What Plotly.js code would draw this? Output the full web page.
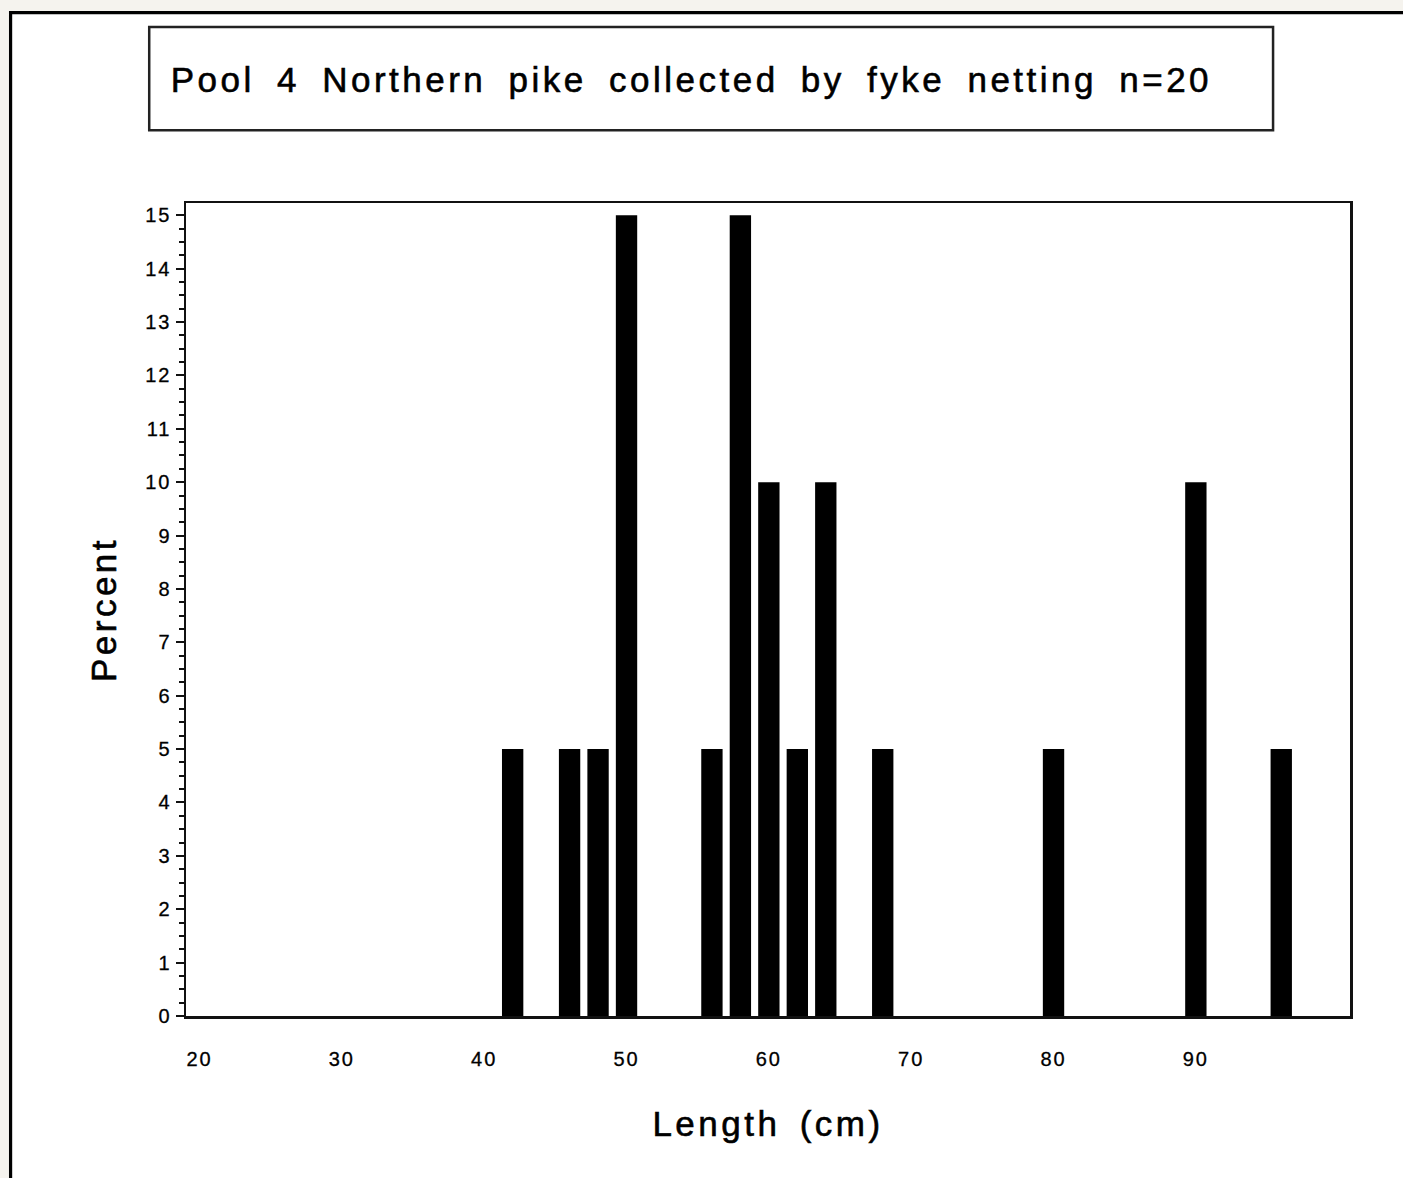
<!DOCTYPE html>
<html>
<head>
<meta charset="utf-8">
<script src="https://cdn.plot.ly/plotly-3.0.1.min.js"></script>
<style>
  html, body { margin: 0; padding: 0; background: #f5f3ee; }
  #chart { width: 1403px; height: 1178px; }
  .gtitle { letter-spacing: 3.5px; word-spacing: 9px; stroke: #000; stroke-width: 0.6px; }
  .xtitle, .ytitle { letter-spacing: 3.5px; word-spacing: 6px; stroke: #000; stroke-width: 0.6px; }
  .xtick text, .ytick text { letter-spacing: 2px; stroke: #000; stroke-width: 0.3px; }
</style>
</head>
<body>
<div id="chart"></div>
<script>
// Data (bin midpoints in cm, percent of fish)
const lengthMidpoints = [42, 46, 48, 50, 56, 58, 60, 62, 64, 68, 80, 90, 96];
const percentValues   = [5, 5, 5, 15, 5, 15, 10, 5, 10, 5, 5, 10, 5];
const xTickValues = [20, 30, 40, 50, 60, 70, 80, 90];
const xTickLabels = ['20', '30', '40', '50', '60', '70', '80', '90'];
const yTickValues = [0, 1, 2, 3, 4, 5, 6, 7, 8, 9, 10, 11, 12, 13, 14, 15];
const yTickLabels = ['0', '1', '2', '3', '4', '5', '6', '7', '8', '9', '10', '11', '12', '13', '14', '15'];
const chartTitle = 'Pool 4 Northern pike collected by fyke netting n=20';
const xTitle = 'Length (cm)';
const yTitle = 'Percent';

const FONT = 'Liberation Sans, Arial, Helvetica, sans-serif';

const trace = {
  type: 'bar',
  x: lengthMidpoints,
  y: percentValues,
  width: 1.5,
  marker: { color: '#000000', line: { width: 0 } },
  hoverinfo: 'x+y'
};

const layout = {
  width: 1403,
  height: 1178,
  margin: { l: 185.5, r: 53, t: 202.5, b: 162, pad: 0 },
  paper_bgcolor: '#f5f3ee',
  plot_bgcolor: '#ffffff',
  showlegend: false,
  font: { family: FONT, color: '#000000' },
  title: {
    text: chartTitle,
    xref: 'container', yref: 'container',
    x: 0.4928, y: 0.932,
    xanchor: 'center', yanchor: 'middle',
    font: { family: FONT, size: 35, color: '#000000' }
  },
  xaxis: {
    range: [19.05, 100.83],
    tickmode: 'array',
    tickvals: xTickValues,
    ticktext: xTickLabels,
    ticks: '',
    ticklabelstandoff: 23,
    tickfont: { family: FONT, size: 20, color: '#000000' },
    showgrid: false,
    zeroline: false,
    showline: true,
    mirror: true,
    linecolor: '#111111',
    linewidth: 2.5,
    automargin: false,
    title: { text: xTitle, standoff: 43, font: { family: FONT, size: 35, color: '#000000' } }
  },
  yaxis: {
    range: [0, 15.23],
    tickmode: 'array',
    tickvals: yTickValues,
    ticktext: yTickLabels,
    ticks: 'outside',
    ticklen: 8,
    tickwidth: 2,
    tickcolor: '#111111',
    ticklabelstandoff: 0,
    minor: { dtick: 0.25, ticks: 'outside', ticklen: 5, tickwidth: 2, tickcolor: '#111111', showgrid: false },
    tickfont: { family: FONT, size: 20, color: '#000000' },
    showgrid: false,
    zeroline: false,
    showline: true,
    mirror: true,
    linecolor: '#111111',
    linewidth: 2.5,
    automargin: false,
    title: { text: yTitle, standoff: 18, font: { family: FONT, size: 35, color: '#000000' } }
  },
  shapes: [
    {
      type: 'rect', xref: 'paper', yref: 'paper', layer: 'below',
      x0: -0.1507, x1: 1.0601, y0: -0.2262, y1: 1.2342,
      fillcolor: '#ffffff', line: { color: '#000000', width: 3.2 }
    },
    {
      type: 'rect', xref: 'paper', yref: 'paper', layer: 'below',
      x0: -0.0316, x1: 0.9339, y0: 1.0895, y1: 1.2166,
      fillcolor: 'rgba(0,0,0,0)', line: { color: '#222222', width: 2.5 }
    }
  ]
};

Plotly.newPlot('chart', [trace], layout, { displayModeBar: false, staticPlot: true });
</script>
</body>
</html>
